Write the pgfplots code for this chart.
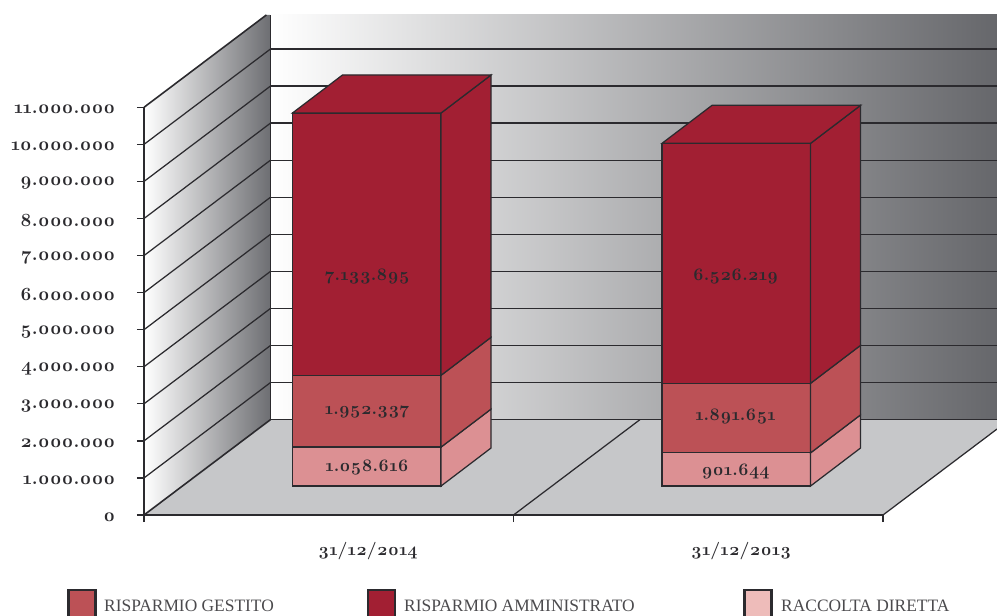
\documentclass[border=0pt]{standalone}
\usepackage{pgfplots}
\pgfplotsset{compat=1.18}
\usepackage{fontspec}
\newfontfamily\lmbold[Numbers=OldStyle]{Latin Modern Roman}
\setmainfont{Liberation Serif}
\definecolor{ink}{HTML}{2B2A2E}
\definecolor{amm}{HTML}{A21F33}
\definecolor{ges}{HTML}{BC5156}
\definecolor{rac}{HTML}{DC9093}
\definecolor{racl}{HTML}{EEBCBA}
\definecolor{flr}{HTML}{C6C7C9}
\definecolor{wallr}{HTML}{66676B}
\definecolor{walll}{HTML}{6D6E72}
\pgfplotsset{frame/.style={
  at={(0pt,0pt)},anchor=south west,scale only axis,width=997pt,height=616pt,
  xmin=-0.3897,xmax=2.3085,no markers},
  ln/.style={draw=ink,line width=1.25pt,forget plot},
  ly/.style={ln,fill=#1}}
\begin{document}
\begin{tikzpicture}
\useasboundingbox (0pt,0pt) rectangle (997pt,616pt);
% walls, floor and value axis
\begin{axis}[frame,
  ymin=-2725000,ymax=13896000,
  axis lines=middle,axis line style={draw=none},
  hide obscured x ticks=false,hide obscured y ticks=false,
  tick align=outside,major tick length=7pt,
  tick style={draw=ink,line width=1.25pt},
  scaled y ticks=false,
  ytick={0,1000000,2000000,3000000,4000000,5000000,6000000,7000000,8000000,9000000,10000000,11000000},
  yticklabels={0,1.000.000,2.000.000,3.000.000,4.000.000,5.000.000,6.000.000,7.000.000,8.000.000,9.000.000,10.000.000,11.000.000},
  yticklabel style={font=\lmbold\bfseries\fontsize{18.7}{19}\selectfont,text=ink,xshift=-18pt,yshift=-2pt},
  xtick={0,1,2},xticklabels={,,},
  extra x ticks={0.606,1.616},
  extra x tick labels={31/12/2014,31/12/2013},
  extra x tick style={major tick length=0pt,xticklabel style={font=\lmbold\bfseries\fontsize{17.6}{18}\selectfont,text=ink,yshift=-24pt}},
]
% back wall
\addplot[draw=none,left color=white,right color=wallr,forget plot] coordinates {(0.3424,2574000) (2.3085,2574000) (2.3085,13492000) (0.3424,13492000)} --cycle;
% left wall
\addplot[draw=none,left color=white,right color=walll,forget plot] coordinates {(0,0) (0,11000000) (0.3313,13492000) (0.3424,13492000) (0.3424,2574000)} --cycle;
% floor
\addplot[draw=none,fill=flr,forget plot] coordinates {(0,0) (2,0) (2.3085,2319000) (2.3085,2574000) (0.3424,2574000)} --cycle;
% back wall grid
\addplot[ln] coordinates {(0.3424,3574000) (2.3085,3574000)};
\addplot[ln] coordinates {(0.3424,4574000) (2.3085,4574000)};
\addplot[ln] coordinates {(0.3424,5574000) (2.3085,5574000)};
\addplot[ln] coordinates {(0.3424,6574000) (2.3085,6574000)};
\addplot[ln] coordinates {(0.3424,7574000) (2.3085,7574000)};
\addplot[ln] coordinates {(0.3424,8574000) (2.3085,8574000)};
\addplot[ln] coordinates {(0.3424,9574000) (2.3085,9574000)};
\addplot[ln] coordinates {(0.3424,10574000) (2.3085,10574000)};
\addplot[ln] coordinates {(0.3424,11574000) (2.3085,11574000)};
\addplot[ln] coordinates {(0.3424,12574000) (2.3085,12574000)};
% left wall grid
\addplot[ln] coordinates {(0,1000000) (0.3424,3574000)};
\addplot[ln] coordinates {(0,2000000) (0.3424,4574000)};
\addplot[ln] coordinates {(0,3000000) (0.3424,5574000)};
\addplot[ln] coordinates {(0,4000000) (0.3424,6574000)};
\addplot[ln] coordinates {(0,5000000) (0.3424,7574000)};
\addplot[ln] coordinates {(0,6000000) (0.3424,8574000)};
\addplot[ln] coordinates {(0,7000000) (0.3424,9574000)};
\addplot[ln] coordinates {(0,8000000) (0.3424,10574000)};
\addplot[ln] coordinates {(0,9000000) (0.3424,11574000)};
\addplot[ln] coordinates {(0,10000000) (0.3424,12574000)};
\addplot[ln,line width=1.6pt] coordinates {(0,11000000) (0.3313,13492000)};
% frame lines
\addplot[ln] coordinates {(0,0) (0,11000000)};
\addplot[ln,line width=1.8pt] coordinates {(0.3424,2574000) (0.3424,13492000)};
\addplot[ln,line width=1.6pt] coordinates {(0,0) (0.3424,2574000)};
\addplot[ln] coordinates {(0.3424,2574000) (2.3085,2574000)};
\addplot[ln,line width=1.8pt] coordinates {(0,0) (2,0)};
\addplot[ln] coordinates {(1,0) (1.3424,2574000)};
\addplot[ln] coordinates {(2,0) (2.3085,2319000)};
\end{axis}
% bars and legend
\begin{axis}[frame,hide axis,
  ymin=-3535500,ymax=13217300,
]
% 31/12/2014
\addplot[ly=rac] coordinates {(0.402,0) (0.804,0) (0.804,1058616) (0.402,1058616)} --cycle;
\addplot[ly=rac] coordinates {(0.804,0) (0.9393,1033500) (0.9393,2092116) (0.804,1058616)} --cycle;
\addplot[ly=ges] coordinates {(0.402,1058616) (0.804,1058616) (0.804,3010953) (0.402,3010953)} --cycle;
\addplot[ly=ges] coordinates {(0.804,1058616) (0.9393,2092116) (0.9393,4044453) (0.804,3010953)} --cycle;
\addplot[ly=amm] coordinates {(0.402,3010953) (0.804,3010953) (0.804,10144848) (0.402,10144848)} --cycle;
\addplot[ly=amm] coordinates {(0.804,3010953) (0.9393,4044453) (0.9393,11178348) (0.804,10144848)} --cycle;
\addplot[ly=amm] coordinates {(0.402,10144848) (0.804,10144848) (0.9393,11178348) (0.5373,11178348)} --cycle;
% 31/12/2013
\addplot[ly=rac] coordinates {(1.402,0) (1.804,0) (1.804,901644) (1.402,901644)} --cycle;
\addplot[ly=rac] coordinates {(1.804,0) (1.9393,1033500) (1.9393,1935144) (1.804,901644)} --cycle;
\addplot[ly=ges] coordinates {(1.402,901644) (1.804,901644) (1.804,2793295) (1.402,2793295)} --cycle;
\addplot[ly=ges] coordinates {(1.804,901644) (1.9393,1935144) (1.9393,3826795) (1.804,2793295)} --cycle;
\addplot[ly=amm] coordinates {(1.402,2793295) (1.804,2793295) (1.804,9319514) (1.402,9319514)} --cycle;
\addplot[ly=amm] coordinates {(1.804,2793295) (1.9393,3826795) (1.9393,10353014) (1.804,9319514)} --cycle;
\addplot[ly=amm] coordinates {(1.402,9319514) (1.804,9319514) (1.9393,10353014) (1.5373,10353014)} --cycle;
% legend swatches
\addplot[ly=ges,line width=2.6pt] coordinates {(-0.2045,-2830000) (-0.1315,-2830000) (-0.1315,-3700000) (-0.2045,-3700000)} --cycle;
\addplot[ly=amm,line width=2.6pt] coordinates {(0.6065,-2830000) (0.6795,-2830000) (0.6795,-3700000) (0.6065,-3700000)} --cycle;
\addplot[ly=racl,line width=2.6pt] coordinates {(1.625,-2830000) (1.698,-2830000) (1.698,-3700000) (1.625,-3700000)} --cycle;
% value labels
\begin{scope}[every node/.style={font=\lmbold\bfseries\fontsize{17.6}{18}\selectfont,text=ink,anchor=center}]
\node at (axis cs:0.604,5700000) {7.133.895};
\node at (axis cs:0.604,2005000) {1.952.337};
\node at (axis cs:0.604,509000) {1.058.616};
\node at (axis cs:1.601,5700000) {6.526.219};
\node at (axis cs:1.601,1896000) {1.891.651};
\node at (axis cs:1.601,400000) {901.644};
\end{scope}
\begin{scope}[every node/.style={font=\fontsize{17.4}{17.5}\selectfont,text=ink!85,anchor=base west,inner sep=0pt}]
\node at (axis cs:-0.1083,-3400000) {RISPARMIO GESTITO};
\node at (axis cs:0.7037,-3400000) {RISPARMIO AMMINISTRATO};
\node at (axis cs:1.724,-3400000) {RACCOLTA DIRETTA};
\end{scope}
\end{axis}
\end{tikzpicture}
\end{document}
